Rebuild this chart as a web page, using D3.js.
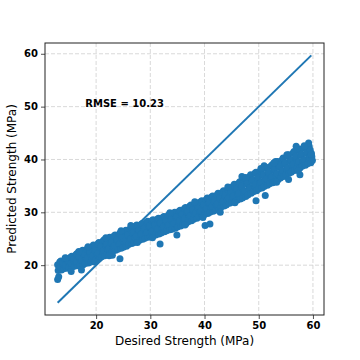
<!DOCTYPE html>
<html><head><meta charset="utf-8">
<script src="https://cdn.jsdelivr.net/npm/d3@7"></script>
<style>body{margin:0;background:#fff}svg{display:block}</style>
</head><body>
<script>
const desired = [
13.0,13.2,12.9,13.3, 13.6,13.4,13.8,13.5, 14.0,14.2,13.9,14.3, 14.6,14.4,14.8,14.5,
15.0,15.2,14.9,15.3, 15.6,15.4,15.8,15.5, 16.0,16.2,15.9,16.3, 16.6,16.4,16.8,16.5,
17.0,17.2,16.9,17.3, 17.6,17.4,17.8,17.5, 18.0,18.2,17.9,18.3, 18.6,18.4,18.8,18.5,
19.0,19.2,18.9,19.3, 19.6,19.4,19.8,19.5, 20.0,20.2,19.9,20.3, 20.6,20.4,20.8,20.5,
21.0,21.2,20.9,21.3, 21.6,21.4,21.8,21.5, 22.0,22.2,21.9,22.3, 22.6,22.4,22.8,22.5,
23.0,23.2,22.9,23.3, 23.6,23.4,23.8,23.5, 24.0,24.2,23.9,24.3, 24.6,24.4,24.8,24.5,
25.0,25.2,24.9,25.3, 25.6,25.4,25.8,25.5, 26.0,26.2,25.9,26.3, 26.6,26.4,26.8,26.5,
27.0,27.2,26.9,27.3, 27.6,27.4,27.8,27.5, 28.0,28.2,27.9,28.3, 28.6,28.4,28.8,28.5,
29.0,29.2,28.9,29.3, 29.6,29.4,29.8,29.5, 30.0,30.2,29.9,30.3, 30.6,30.4,30.8,30.5,
31.0,31.2,30.9,31.3, 31.6,31.4,31.8,31.5, 32.0,32.2,31.9,32.3, 32.6,32.4,32.8,32.5,
33.0,33.2,32.9,33.3, 33.6,33.4,33.8,33.5, 34.0,34.2,33.9,34.3, 34.6,34.4,34.8,34.5,
35.0,35.2,34.9,35.3, 35.6,35.4,35.8,35.5, 36.0,36.2,35.9,36.3, 36.6,36.4,36.8,36.5,
37.0,37.2,36.9,37.3, 37.6,37.4,37.8,37.5, 38.0,38.2,37.9,38.3, 38.6,38.4,38.8,38.5,
39.0,39.2,38.9,39.3, 39.6,39.4,39.8,39.5, 40.0,40.2,39.9,40.3, 40.6,40.4,40.8,40.5,
41.0,41.2,40.9,41.3, 41.6,41.4,41.8,41.5, 42.0,42.2,41.9,42.3, 42.6,42.4,42.8,42.5,
43.0,43.2,42.9,43.3, 43.6,43.4,43.8,43.5, 44.0,44.2,43.9,44.3, 44.6,44.4,44.8,44.5,
45.0,45.2,44.9,45.3, 45.6,45.4,45.8,45.5, 46.0,46.2,45.9,46.3, 46.6,46.4,46.8,46.5,
47.0,47.2,46.9,47.3, 47.6,47.4,47.8,47.5, 48.0,48.2,47.9,48.3, 48.6,48.4,48.8,48.5,
49.0,49.2,48.9,49.3, 49.6,49.4,49.8,49.5, 50.0,50.2,49.9,50.3, 50.6,50.4,50.8,50.5,
51.0,51.2,50.9,51.3, 51.6,51.4,51.8,51.5, 52.0,52.2,51.9,52.3, 52.6,52.4,52.8,52.5,
53.0,53.2,52.9,53.3, 53.6,53.4,53.8,53.5, 54.0,54.2,53.9,54.3, 54.6,54.4,54.8,54.5,
55.0,55.2,54.9,55.3, 55.6,55.4,55.8,55.5, 56.0,56.2,55.9,56.3, 56.6,56.4,56.8,56.5,
57.0,57.2,56.9,57.3, 57.6,57.4,57.8,57.5, 58.0,58.2,57.9,58.3, 58.6,58.4,58.8,58.5,
59.0,59.2,58.9,59.3, 59.6,59.4,59.7,59.5,
12.9,13.1,15.4,17.3,23.0,24.4,31.8,34.9,40.1,41.0,42.9,49.5,51.2,55.5,57.6,
51.0,46.9,53.1,56.9,59.2,59.8,59.9,59.7,
14.3,16.8,18.5,21.8,24.6,26.4,33.6,38.2,44.3,47.6,50.4,52.8,55.2,58.4,
19.8,22.4,27.6,30.4,36.4,39.7,45.6,53.3,57.3
];
const predicted = [
19.0,19.6,20.1,20.6, 19.1,19.7,20.3,20.8, 19.3,19.9,20.5,21.0, 19.4,20.1,20.7,21.3,
19.6,20.2,20.9,21.5, 19.7,20.4,21.1,21.7, 19.8,20.6,21.3,22.0, 19.9,20.7,21.5,22.2,
20.0,20.9,21.7,22.5, 20.1,21.0,21.9,22.8, 20.3,21.2,22.1,23.0, 20.4,21.4,22.3,23.2,
20.6,21.6,22.6,23.5, 20.8,21.8,22.8,23.8, 21.1,22.1,23.1,24.0, 21.3,22.3,23.3,24.3,
21.6,22.6,23.6,24.6, 21.8,22.8,23.8,24.8, 22.1,23.0,24.0,25.0, 22.3,23.2,24.2,25.3,
22.6,23.5,24.5,25.5, 22.8,23.7,24.7,25.7, 23.0,23.9,24.9,25.9, 23.2,24.1,25.1,26.2,
23.4,24.4,25.4,26.4, 23.6,24.6,25.6,26.6, 23.9,24.8,25.8,26.9, 24.1,25.0,26.0,27.1,
24.3,25.3,26.3,27.4, 24.5,25.5,26.5,27.6, 24.7,25.7,26.7,27.7, 24.9,25.9,26.9,27.9,
25.1,26.1,27.1,28.1, 25.3,26.2,27.2,28.3, 25.4,26.4,27.4,28.4, 25.6,26.5,27.5,28.6,
25.7,26.7,27.7,28.7, 25.9,26.9,27.9,28.9, 26.1,27.1,28.0,29.0, 26.3,27.3,28.2,29.2,
26.5,27.5,28.4,29.4, 26.7,27.7,28.6,29.6, 26.8,27.8,28.8,29.8, 27.0,28.0,29.0,30.0,
27.2,28.2,29.2,30.2, 27.4,28.4,29.4,30.4, 27.7,28.7,29.7,30.7, 27.9,28.9,29.9,30.9,
28.2,29.2,30.2,31.2, 28.4,29.4,30.4,31.4, 28.7,29.6,30.6,31.6, 28.9,29.9,30.8,31.8,
29.2,30.1,31.1,32.0, 29.4,30.3,31.3,32.2, 29.6,30.5,31.5,32.4, 29.8,30.7,31.7,32.7,
30.0,31.0,31.9,32.9, 30.2,31.2,32.1,33.1, 30.4,31.4,32.4,33.3, 30.7,31.6,32.6,33.6,
30.9,31.9,32.8,33.8, 31.2,32.1,33.1,34.1, 31.4,32.4,33.4,34.4, 31.7,32.7,33.7,34.7,
31.9,32.9,34.0,35.0, 32.1,33.2,34.2,35.3, 32.3,33.4,34.5,35.5, 32.5,33.6,34.8,35.8,
32.7,33.8,35.0,36.1, 33.0,34.1,35.3,36.4, 33.3,34.4,35.6,36.7, 33.6,34.7,35.9,37.1,
33.9,35.0,36.2,37.4, 34.1,35.3,36.4,37.6, 34.4,35.5,36.7,37.8, 34.6,35.7,36.9,38.1,
34.9,36.0,37.1,38.3, 35.1,36.3,37.4,38.5, 35.4,36.5,37.6,38.8, 35.6,36.8,37.9,39.0,
35.9,37.0,38.2,39.3, 36.2,37.3,38.5,39.6, 36.5,37.6,38.8,39.9, 36.8,37.9,39.1,40.3,
37.1,38.2,39.4,40.6, 37.4,38.5,39.7,40.9, 37.6,38.8,40.0,41.2, 37.9,39.1,40.3,41.5,
38.2,39.4,40.6,41.8, 38.4,39.6,40.8,42.0, 38.7,39.8,41.0,42.2, 38.9,40.0,41.2,42.3,
39.2,40.2,41.4,42.5, 39.4,40.4,41.2,41.8,
17.3,17.8,18.8,19.1,21.9,21.2,24.0,25.7,27.5,27.8,30.0,32.2,33.2,36.2,37.1,
38.8,36.8,39.6,42.5,43.1,40.5,39.8,41.0,
21.4,22.6,23.5,25.2,26.5,27.5,29.9,32.0,34.8,36.6,38.3,39.4,40.9,42.6,
20.6,21.8,24.3,25.2,27.6,29.0,31.8,35.7,37.9
];
const identityLine = [12.9, 59.7];
const xTicks = [20, 30, 40, 50, 60];
const yTicks = [20, 30, 40, 50, 60];
const xLabel = "Desired Strength (MPa)";
const yLabel = "Predicted Strength (MPa)";
const rmseText = "RMSE = 10.23";
const rmsePos = [18, 50];

const W = 360, H = 360;
const L = 45, R = 324, T = 43, B = 315;
const blue = "#1f77b4";
const font = "DejaVu Sans";

const svg = d3.select("body").append("svg").attr("width", W).attr("height", H);
const x = d3.scaleLinear().domain([10.57, 62.04]).range([L, R]);
const y = d3.scaleLinear().domain([10.57, 62.04]).range([B, T]);

// grid
const grid = svg.append("g");
grid.selectAll(".gx").data(xTicks).join("line")
  .attr("x1", d => x(d)).attr("x2", d => x(d)).attr("y1", T).attr("y2", B)
  .attr("stroke", "#cfcfcf").attr("stroke-width", 0.8).attr("stroke-dasharray", "4,2");
grid.selectAll(".gy").data(yTicks).join("line")
  .attr("y1", d => y(d)).attr("y2", d => y(d)).attr("x1", L).attr("x2", R)
  .attr("stroke", "#cfcfcf").attr("stroke-width", 0.8).attr("stroke-dasharray", "4,2");

// points
const pts = desired.map((d, i) => [d, predicted[i]]);
svg.append("g").selectAll("circle").data(pts).join("circle")
  .attr("cx", d => x(d[0])).attr("cy", d => y(d[1])).attr("r", 3.5)
  .attr("fill", blue);

// identity line
svg.append("line")
  .attr("x1", x(identityLine[0])).attr("y1", y(identityLine[0]))
  .attr("x2", x(identityLine[1])).attr("y2", y(identityLine[1]))
  .attr("stroke", blue).attr("stroke-width", 2);

// frame
svg.append("rect").attr("x", L).attr("y", T).attr("width", R - L).attr("height", B - T)
  .attr("fill", "none").attr("stroke", "#222").attr("stroke-width", 1);

// axes
const xa = svg.append("g").attr("transform", `translate(0,${B})`)
  .call(d3.axisBottom(x).tickValues(xTicks).tickSize(4).tickPadding(3).tickFormat(d3.format("d")));
const ya = svg.append("g").attr("transform", `translate(${L},0)`)
  .call(d3.axisLeft(y).tickValues(yTicks).tickSize(4).tickPadding(3).tickFormat(d3.format("d")));
[xa, ya].forEach(a => {
  a.select(".domain").remove();
  a.selectAll(".tick line").attr("stroke", "#222").attr("stroke-width", 0.8);
  a.selectAll(".tick text").attr("font-family", font).attr("font-size", 10)
    .attr("font-weight", "bold").attr("fill", "#000");
});

// labels
svg.append("text").attr("x", (L + R) / 2).attr("y", 345).attr("text-anchor", "middle")
  .attr("font-family", font).attr("font-size", 12).attr("fill", "#000").text(xLabel);
svg.append("text").attr("transform", `translate(16,${(T + B) / 2}) rotate(-90)`)
  .attr("text-anchor", "middle").attr("font-family", font).attr("font-size", 12)
  .attr("fill", "#000").text(yLabel);
svg.append("text").attr("x", x(rmsePos[0])).attr("y", y(rmsePos[1]))
  .attr("font-family", font).attr("font-size", 10).attr("font-weight", "bold")
  .attr("fill", "#000").text(rmseText);
</script>
</body></html>
